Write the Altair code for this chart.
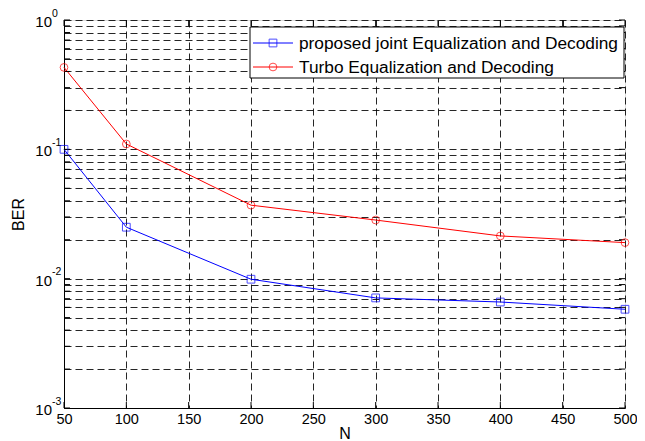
import altair as alt
import pandas as pd

N_values = [50, 100, 200, 300, 400, 500]
ber_proposed = [0.1, 0.025, 0.0099, 0.0071, 0.0066, 0.0058]
ber_turbo = [0.43, 0.11, 0.037, 0.0284, 0.0214, 0.019]
series_names = ["proposed joint Equalization and Decoding", "Turbo Equalization and Decoding"]
series_colors = ["#0000FF", "#FF0000"]
series_shapes = ["square", "circle"]

x_ticks = [50, 100, 150, 200, 250, 300, 350, 400, 450, 500]
decades = [1.0, 0.1, 0.01, 0.001]
decade_exps = ["0", "-1", "-2", "-3"]
y_minor = [m * 10.0 ** k for k in (-3, -2, -1) for m in range(1, 10)] + [1.0]

W, H = 561, 388
FONT = "Liberation Sans"

rows = []
for name, vals in zip(series_names, [ber_proposed, ber_turbo]):
    for n, v in zip(N_values, vals):
        rows.append({"N": n, "BER": v, "series": name})
df = pd.DataFrame(rows)

xscale = alt.Scale(domain=[50, 500], nice=False, zero=False)
yscale = alt.Scale(type="log", domain=[0.001, 1], nice=False)
cscale = alt.Scale(domain=series_names, range=series_colors)

xaxis = alt.Axis(values=x_ticks, grid=True, gridDash=[7, 4], gridColor="#000000",
                 gridOpacity=0.85, gridWidth=1, tickSize=0, labelPadding=4,
                 labelFont=FONT, labelFontSize=14.5, labelColor="#000000",
                 domainColor="#000000", title="N", titleFont=FONT, titleFontSize=16,
                 titleFontWeight="normal", titleColor="#000000", titlePadding=0,
                 labelFlush=False)
yaxis = alt.Axis(values=y_minor, grid=True, gridDash=[7, 4], gridColor="#000000",
                 gridOpacity=0.85, gridWidth=1, tickSize=0, labels=False,
                 domainColor="#000000", title="BER", titleFont=FONT, titleFontSize=16,
                 titleFontWeight="normal", titleColor="#000000",
                 titleX=-46, titleY=H / 2, titleAngle=-90, titleBaseline="middle",
                 titleAlign="center")

base = alt.Chart(df)
lines = base.mark_line(strokeWidth=1, clip=False).encode(
    x=alt.X("N:Q", scale=xscale, axis=xaxis),
    y=alt.Y("BER:Q", scale=yscale, axis=yaxis),
    color=alt.Color("series:N", scale=cscale, legend=None),
    detail="series:N",
)
points = base.mark_point(filled=False, strokeWidth=1, size=60).encode(
    x="N:Q",
    y="BER:Q",
    color=alt.Color("series:N", scale=cscale, legend=None),
    shape=alt.Shape("series:N", scale=alt.Scale(domain=series_names, range=series_shapes), legend=None),
)

ydf = pd.DataFrame({"BER": y_minor})
xdf = pd.DataFrame({"N": x_ticks})
TL = 6
ticks = [
    alt.Chart(ydf).mark_rule(color="black", strokeWidth=1).encode(y="BER:Q", x=alt.value(0), x2=alt.value(TL)),
    alt.Chart(ydf).mark_rule(color="black", strokeWidth=1).encode(y="BER:Q", x=alt.value(W - TL), x2=alt.value(W)),
    alt.Chart(xdf).mark_rule(color="black", strokeWidth=1).encode(x="N:Q", y=alt.value(H - TL), y2=alt.value(H)),
    alt.Chart(xdf).mark_rule(color="black", strokeWidth=1).encode(x="N:Q", y=alt.value(0), y2=alt.value(TL)),
]

ddf = pd.DataFrame({"BER": decades, "exp": decade_exps})
ylab10 = alt.Chart(ddf).mark_text(font=FONT, fontSize=15, align="right", baseline="middle",
                                  dy=2, color="black").encode(
    y="BER:Q", x=alt.value(-12), text=alt.value("10"))
ylabexp = alt.Chart(ddf).mark_text(font=FONT, fontSize=10.5, align="left", baseline="middle",
                                   dy=-6.5, color="black").encode(
    y="BER:Q", x=alt.value(-12), text="exp:N")

one = alt.Data(values=[{"k": 1}])
legend_layers = [
    alt.Chart(one).mark_rect(fill="white", stroke="black", strokeWidth=1).encode(
        x=alt.value(186), x2=alt.value(W - 1), y=alt.value(7), y2=alt.value(58)),
]
for i, (name, col, shp) in enumerate(zip(series_names, series_colors, series_shapes)):
    yy = 23 + 24 * i
    legend_layers += [
        alt.Chart(one).mark_rule(color=col, strokeWidth=1).encode(
            x=alt.value(189), x2=alt.value(229), y=alt.value(yy)),
        alt.Chart(one).mark_point(color=col, filled=False, strokeWidth=1, size=60, shape=shp).encode(
            x=alt.value(209), y=alt.value(yy)),
        alt.Chart(one).mark_text(font=FONT, fontSize=17.3, align="left", baseline="middle",
                                 color="black", dy=1).encode(
            x=alt.value(235), y=alt.value(yy), text=alt.value(name)),
    ]

chart = alt.layer(lines, *ticks, points, ylab10, ylabexp, *legend_layers).properties(
    width=W, height=H,
    autosize=alt.AutoSizeParams(type="none"),
    padding={"left": 56, "top": 12, "right": 12, "bottom": 33},
).configure_view(stroke="black", strokeWidth=1).configure(background="white")

chart.save("out.html", embed_options={"renderer": "svg", "actions": False})
